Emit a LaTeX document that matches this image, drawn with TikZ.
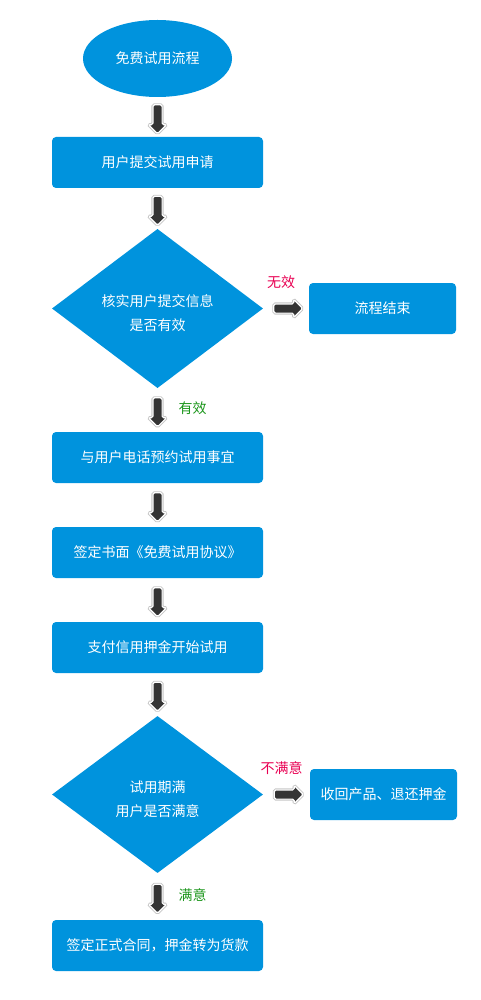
\documentclass[tikz,border=0pt]{standalone}
\usepackage{fontspec}
\usepackage{tikz}
\usetikzlibrary{shapes.geometric}
\usetikzlibrary{shapes.arrows}
\newfontfamily\cjk{Noto Sans CJK SC}
\definecolor{mblue}{RGB}{0,147,221}
\definecolor{mred}{RGB}{232,0,82}
\definecolor{mgreen}{RGB}{28,150,28}
\definecolor{mgrey}{RGB}{52,52,52}

\begin{document}
\begin{tikzpicture}[x=1pt, y=-1pt,
    every node/.style={font=\cjk\fontsize{14}{24.5}\selectfont},
    startnode/.style={ellipse, fill=mblue, text=white, minimum width=149pt, minimum height=77pt, inner sep=0pt},
    flowbox/.style={rectangle, rounded corners=4pt, fill=mblue, text=white, minimum width=211pt, minimum height=51pt, inner sep=0pt},
    decision/.style={diamond, fill=mblue, text=white, align=center, text height=46pt, minimum width=211pt, minimum height=157pt, inner sep=0pt},
    flow/.style={to path={-- (\tikztotarget) node[midway, sloped, allow upside down, single arrow, single arrow head extend=4.5pt, minimum height=29pt, inner sep=4pt, rounded corners=1.5pt, fill=mgrey, draw=white, line width=1.2pt, preaction={draw=gray!45, line width=3pt}] {} \tikztonodes}},
    nolabel/.style={midway, text=mred, xshift=-5pt, yshift=26pt},
    yeslabel/.style={midway, anchor=west, text=mgreen, xshift=17.5pt, yshift=1.5pt}]
    \useasboundingbox (0,0) rectangle (480,1000);

    \node[startnode] (start) at (157.5,58.5) {免费试用流程};
    \node[flowbox] (apply) at (157.5,162.5) {用户提交试用申请};
    \node[decision] (check) at (157.5,308.5) {核实用户提交信息\\是否有效};
    \node[flowbox, minimum width=147pt] (stop) at (382.5,308.5) {流程结束};
    \node[flowbox] (call) at (157.5,457.5) {与用户电话预约试用事宜};
    \node[flowbox] (sign) at (157.5,552.5) {签定书面《免费试用协议》};
    \node[flowbox] (pay) at (157.5,647.5) {支付信用押金开始试用};
    \node[decision] (satisfied) at (157.5,794.5) {试用期满\\用户是否满意};
    \node[flowbox, minimum width=147pt] (back) at (383.5,794.5) {收回产品、退还押金};
    \node[flowbox] (contract) at (157.5,945.5) {签定正式合同，押金转为货款};

    \path[flow] (start) to (apply);
    \path[flow] (apply) to (check);
    \path[flow] (check) to node[nolabel] {无效} (stop);
    \path[flow] (check) to node[yeslabel] {有效} (call);
    \path[flow] (call) to (sign);
    \path[flow] (sign) to (pay);
    \path[flow] (pay) to (satisfied);
    \path[flow] (satisfied) to node[nolabel] {不满意} (back);
    \path[flow] (satisfied) to node[yeslabel] {满意} (contract);
  \end{tikzpicture}
\end{document}
